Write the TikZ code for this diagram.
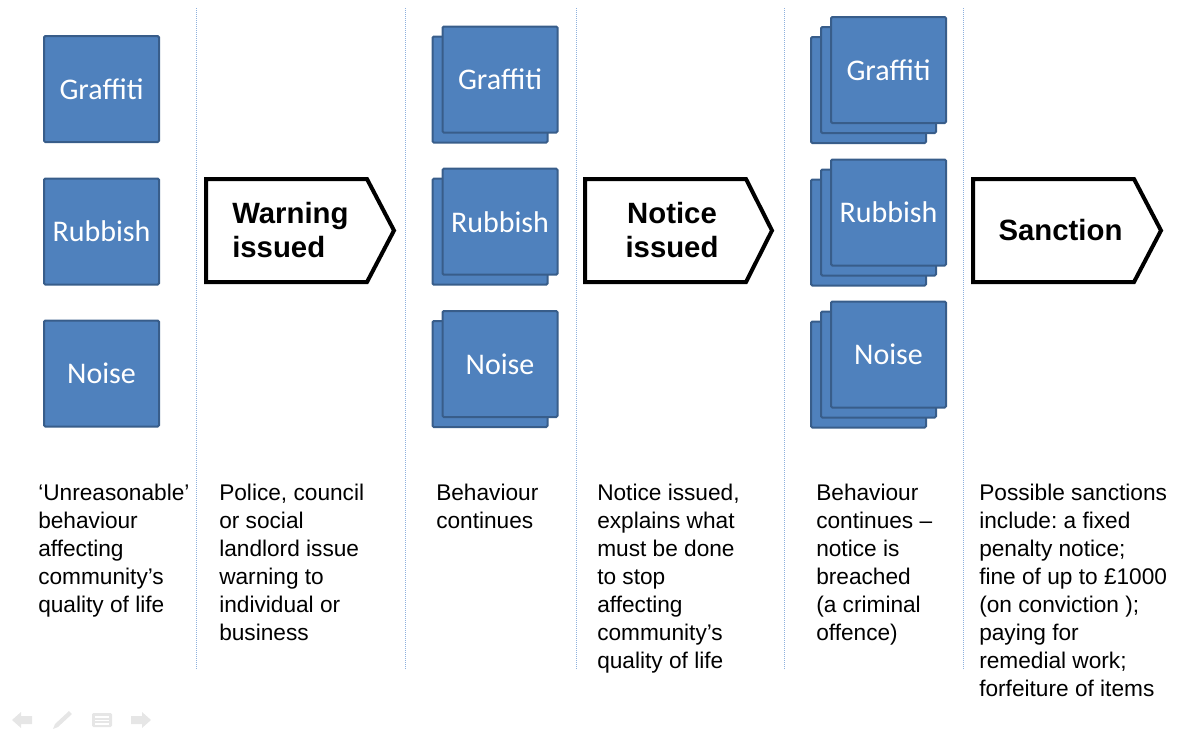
\documentclass[tikz,border=0pt]{standalone}
\usepackage{fontspec}
\setmainfont{Liberation Sans}
\newfontfamily\carlito{Carlito}
\frenchspacing
\definecolor{boxblue}{HTML}{4F81BD}
\definecolor{boxedge}{HTML}{385D8A}
\definecolor{sepblue}{HTML}{8DB0DD}
\definecolor{icongray}{HTML}{E6E6E6}
\begin{document}
\begin{tikzpicture}[x=0.75pt,y=-0.75pt,
  bluebox/.style={draw=boxedge, fill=boxblue, line width=1.5pt, rounded corners=1pt,
    minimum width=86.25pt, minimum height=79.5pt, inner sep=0pt,
    text=white, font=\carlito\fontsize{22.5}{26}\selectfont},
  sepline/.style={draw=sepblue, line width=0.75pt, dash pattern=on 0.75pt off 0.75pt},
  signalpath/.style={draw=black, line width=3pt, fill=white, line join=miter},
  signaltext/.style={inner sep=0pt, font=\bfseries\fontsize{22}{25.5}\selectfont},
  desc/.style={anchor=north west, inner sep=0pt, align=left, font=\fontsize{17}{21}\selectfont},
  icon/.style={fill=icongray, draw=none}]
\useasboundingbox (0,0) rectangle (1184,733);

% separators
\foreach \i/\x in {1/196.5,2/405.5,3/576,4/784,5/963.5}{
  \coordinate (s\i t) at (\x,8);
  \coordinate (s\i b) at (\x,670);
  \draw[sepline] (s\i t) -- (s\i b);
}

% column 1: single boxes
\node[bluebox] (g1) at (101.5,89) {Graffiti};
\node[bluebox] (r1) at (101.5,231.5) {Rubbish};
\node[bluebox] (n1) at (101.5,373.5) {Noise};

% column 3: double stacks
\node[bluebox] (g3b) at (490,89.5) {};
\node[bluebox] (g3) at (500,79.5) {Graffiti};
\node[bluebox] (r3b) at (490,231.7) {};
\node[bluebox] (r3) at (500,221.7) {Rubbish};
\node[bluebox] (n3b) at (490,374) {};
\node[bluebox] (n3) at (500,364) {Noise};

% column 5: triple stacks
\node[bluebox] (g5c) at (868.5,90) {};
\node[bluebox] (g5b) at (878.5,80) {};
\node[bluebox] (g5) at (888.5,70) {Graffiti};
\node[bluebox] (r5c) at (868.5,232.5) {};
\node[bluebox] (r5b) at (878.5,222.5) {};
\node[bluebox] (r5) at (888.5,212.5) {Rubbish};
\node[bluebox] (n5c) at (868.5,374.5) {};
\node[bluebox] (n5b) at (878.5,364.5) {};
\node[bluebox] (n5) at (888.5,354.5) {Noise};

% signal arrows
\draw[signalpath] (206,179) -- (367,179) -- (394,230.5) -- (367,282) -- (206,282) -- cycle;
\node[signaltext, anchor=west, align=left] (warn) at (232,230.5) {Warning\\issued};

\draw[signalpath] (585,179) -- (746,179) -- (772,230.5) -- (746,282) -- (585,282) -- cycle;
\node[signaltext, align=center] (notice) at (672,230.5) {Notice\\issued};

\draw[signalpath] (973,179) -- (1134,179) -- (1161,230.5) -- (1134,282) -- (973,282) -- cycle;
\node[signaltext] (sanction) at (1060.5,230.5) {Sanction};

% descriptions
\node[desc] (t1) at (38,483.5) {‘Unreasonable’\\behaviour\\affecting\\community’s\\quality of life};
\node[desc] (t2) at (219,483.5) {Police, council\\or social\\landlord issue\\warning to\\individual or\\business};
\node[desc] (t3) at (436,483.5) {Behaviour\\continues};
\node[desc] (t4) at (597,483.5) {Notice issued,\\explains what\\must be done\\to stop\\affecting\\community’s\\quality of life};
\node[desc] (t5) at (816,483.5) {Behaviour\\continues –\\notice is\\breached\\(a criminal\\offence)};
\node[desc] (t6) at (979,483.5) {Possible sanctions\\include: a fixed\\penalty notice;\\fine of up to £1000\\(on conviction );\\paying for\\remedial work;\\forfeiture of items};

% faint slideshow controls
\fill[icon] (12,720) -- (21,712) -- (21,716) -- (32,716) -- (32,724) -- (21,724) -- (21,728) -- cycle;
\fill[icon] (53,729) -- (55,724) -- (69,711) -- (72,714) -- (58,727) -- cycle;
\fill[icon, rounded corners=1pt] (92,713) rectangle (112,727);
\draw[white, line width=0.9pt] (95,717) -- (109,717) (95,720.5) -- (109,720.5) (95,724) -- (109,724);
\fill[icon] (151,720) -- (142,712) -- (142,716) -- (131,716) -- (131,724) -- (142,724) -- (142,728) -- cycle;
\end{tikzpicture}
\end{document}
